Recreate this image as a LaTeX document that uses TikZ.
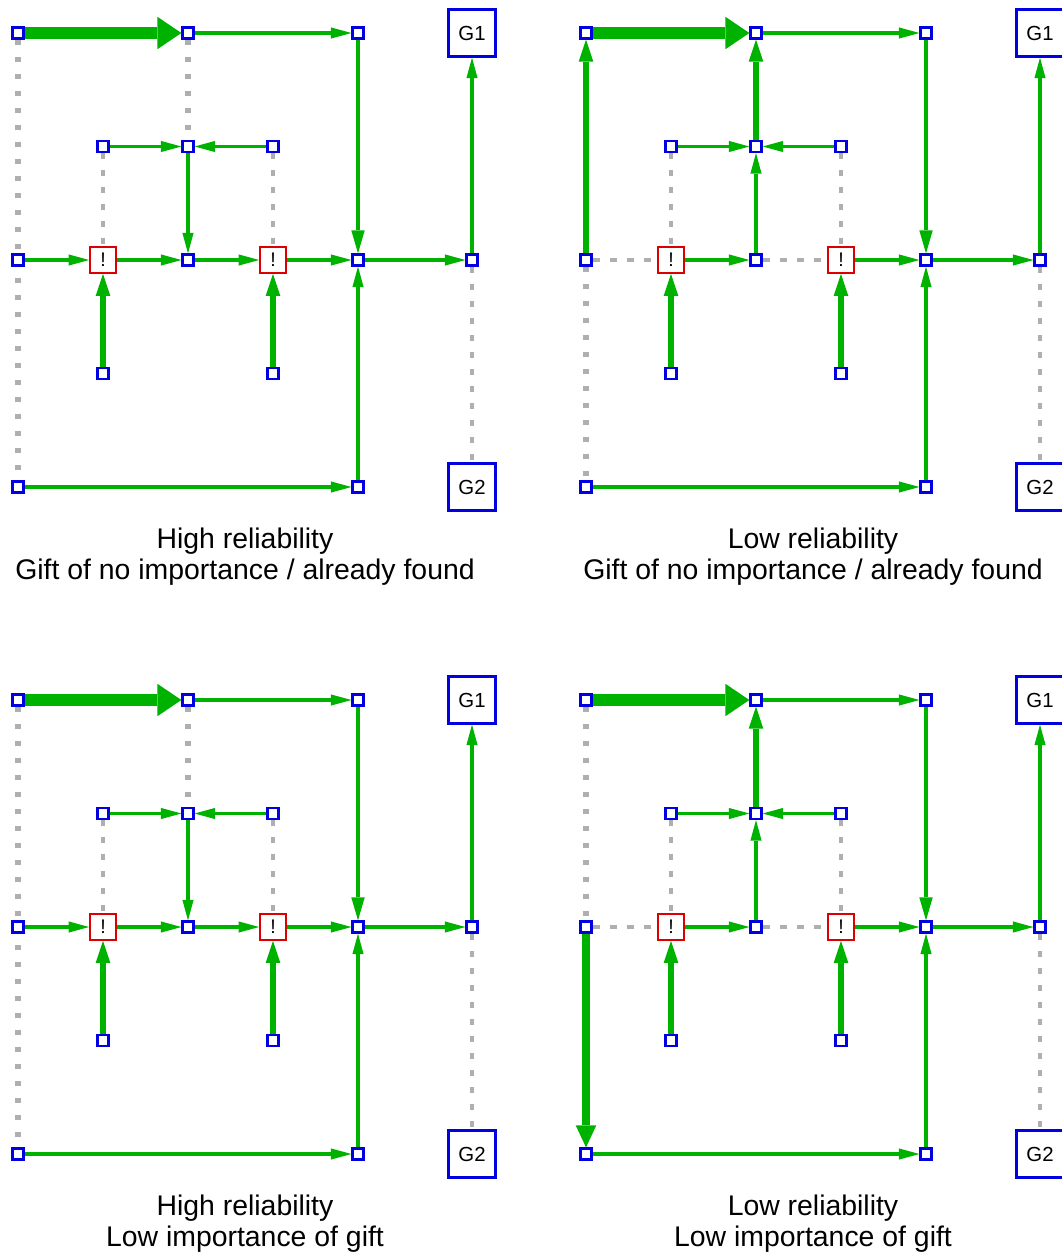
\documentclass[tikz,border=0pt]{standalone}
\usepackage{fontspec}
\setmainfont{Liberation Sans}
\usetikzlibrary{arrows.meta,backgrounds}
\newcommand{\DX}{2.125}
\newcommand{\DY}{2.8375}
\newcommand{\GX}{11.35}
\definecolor{mzblue}{RGB}{0,0,225}
\definecolor{mzred}{RGB}{220,0,0}
\definecolor{mzgreen}{RGB}{0,178,0}
\definecolor{mzgray}{RGB}{175,175,175}

% the crossings, dead ends and goals of the maze (same in every panel)
\newcommand{\mazenodes}{%
  \node[sq]    (n00) at (0,0)            {};
  \node[sq]    (n20) at (2*\DX,0)        {};
  \node[sq]    (n40) at (4*\DX,0)        {};
  \node[goal]  (g1)  at (\GX,0)          {G1};
  \node[sq]    (n11) at (\DX,-\DY)       {};
  \node[sq]    (n21) at (2*\DX,-\DY)     {};
  \node[sq]    (n31) at (3*\DX,-\DY)     {};
  \node[sq]    (n02) at (0,-2*\DY)       {};
  \node[alarm] (x1)  at (\DX,-2*\DY)     {!};
  \node[sq]    (n22) at (2*\DX,-2*\DY)   {};
  \node[alarm] (x2)  at (3*\DX,-2*\DY)   {!};
  \node[sq]    (n42) at (4*\DX,-2*\DY)   {};
  \node[sq]    (n52) at (\GX,-2*\DY)     {};
  \node[sq]    (n13) at (\DX,-3*\DY)     {};
  \node[sq]    (n33) at (3*\DX,-3*\DY)   {};
  \node[sq]    (n04) at (0,-4*\DY)       {};
  \node[sq]    (n44) at (4*\DX,-4*\DY)   {};
  \node[goal]  (g2)  at (\GX,-4*\DY)     {G2};
}

% flows that do not depend on reliability or importance
\newcommand{\mazeflows}{%
  \draw[flowmax] (n00) -- (n20);
  \draw[flow] (n20) -- (n40);
  \draw[flowmid] (n40) -- (n42);
  \draw[flow] (n11) -- (n21);
  \draw[flow] (n31) -- (n21);
  \draw[flow] (x1) -- (n22);
  \draw[flow] (x2) -- (n42);
  \draw[flow] (n42) -- (n52);
  \draw[flow] (n52) -- (g1);
  \draw[flowstrong] (n13) -- (x1);
  \draw[flowstrong] (n33) -- (x2);
  \draw[flow] (n44) -- (n42);
  \draw[flow] (n04) -- (n44);
  \begin{scope}[on background layer]
    \draw[dotlink] (n11) -- (x1);
    \draw[dotlink] (n31) -- (x2);
    \draw[dotlink] (n52) -- (g2);
  \end{scope}
}

\begin{document}
\begin{tikzpicture}[
    sq/.style={rectangle, draw=mzblue, fill=white, line width=1.75pt, minimum size=0.27cm, inner sep=0pt},
    alarm/.style={rectangle, draw=mzred, fill=white, line width=1.6pt, minimum size=0.64cm, inner sep=0pt,
      font=\fontsize{14}{14}\selectfont},
    goal/.style={rectangle, draw=mzblue, fill=white, line width=2.1pt, minimum size=1.16cm, inner sep=0pt,
      font=\fontsize{14.5}{14.5}\selectfont},
    flow/.style={draw=mzgreen, line width=2.25pt, -{Triangle[length=14.6pt, width=8pt, line width=0pt]}},
    flowmid/.style={draw=mzgreen, line width=3.1pt, -{Triangle[length=16.4pt, width=9.6pt, line width=0pt]}},
    flowstrong/.style={draw=mzgreen, line width=4.1pt, -{Triangle[length=15.6pt, width=10.4pt, line width=0pt]}},
    flowheavy/.style={draw=mzgreen, line width=5pt, -{Triangle[length=15.6pt, width=14.6pt, line width=0pt]}},
    flowmax/.style={draw=mzgreen, line width=8.7pt, -{Triangle[length=17pt, width=23pt, line width=0pt]}},
    walllink/.style={draw=mzgray, line width=3.7pt, dash pattern=on 3.7pt off 8.4pt},
    dotlink/.style={draw=mzgray, line width=2.3pt, dash pattern=on 4.4pt off 7.7pt},
    dashlink/.style={draw=mzgray, line width=2.3pt, dash pattern=on 5pt off 7.1pt},
    caption/.style={align=center, font=\fontsize{20.2}{22}\selectfont},
  ]
  \useasboundingbox (0,0) rectangle (26.55,-31.425);

  %% ============ high reliability, gift of no importance ============
  \begin{scope}[shift={(0.45,-0.825)}, name prefix=a-]
    \mazenodes
    \mazeflows
    \draw[flow] (n21) -- (n22);
    \draw[flow] (n02) -- (x1);
    \draw[flow] (n22) -- (x2);
    \begin{scope}[on background layer]
      \draw[walllink] (n00) -- (n04);
      \draw[walllink] (n20) -- (n21);
    \end{scope}
    \node[caption] (cap) at (\GX/2,-13.1) {High reliability\\Gift of no importance / already found};
  \end{scope}

  %% ============ low reliability, gift of no importance ============
  \begin{scope}[shift={(14.65,-0.825)}, name prefix=b-]
    \mazenodes
    \mazeflows
    \draw[flowstrong] (n21) -- (n20);
    \draw[flow] (n22) -- (n21);
    \draw[flowstrong] (n02) -- (n00);
    \begin{scope}[on background layer]
      \draw[dashlink] (n02) -- (x1);
      \draw[dashlink] (n22) -- (x2);
      \draw[walllink] (n02) -- (n04);
    \end{scope}
    \node[caption] (cap) at (\GX/2,-13.1) {Low reliability\\Gift of no importance / already found};
  \end{scope}

  %% ============ high reliability, low importance ============
  \begin{scope}[shift={(0.45,-17.5)}, name prefix=c-]
    \mazenodes
    \mazeflows
    \draw[flow] (n21) -- (n22);
    \draw[flow] (n02) -- (x1);
    \draw[flow] (n22) -- (x2);
    \begin{scope}[on background layer]
      \draw[walllink] (n00) -- (n04);
      \draw[walllink] (n20) -- (n21);
    \end{scope}
    \node[caption] (cap) at (\GX/2,-13.1) {High reliability\\Low importance of gift};
  \end{scope}

  %% ============ low reliability, low importance ============
  \begin{scope}[shift={(14.65,-17.5)}, name prefix=d-]
    \mazenodes
    \mazeflows
    \draw[flowstrong] (n21) -- (n20);
    \draw[flow] (n22) -- (n21);
    \draw[flowheavy] (n02) -- (n04);
    \begin{scope}[on background layer]
      \draw[dashlink] (n02) -- (x1);
      \draw[dashlink] (n22) -- (x2);
      \draw[walllink] (n00) -- (n02);
    \end{scope}
    \node[caption] (cap) at (\GX/2,-13.1) {Low reliability\\Low importance of gift};
  \end{scope}

\end{tikzpicture}
\end{document}
